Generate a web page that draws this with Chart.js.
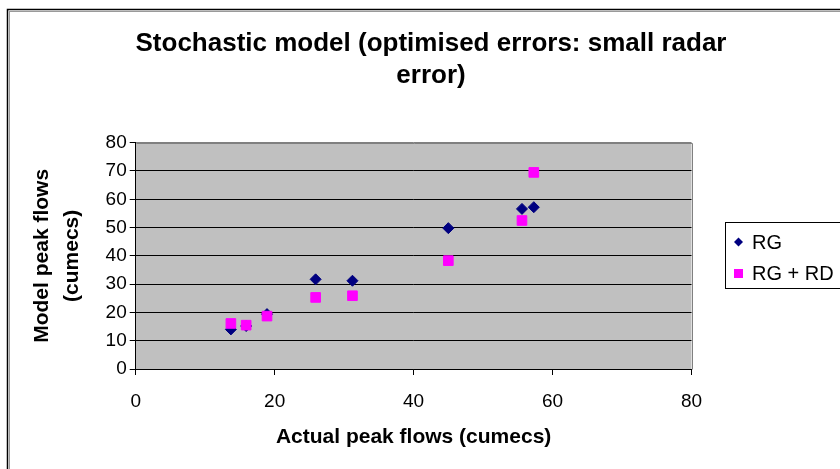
<!DOCTYPE html>
<html>
<head>
<meta charset="utf-8">
<script src="https://cdn.jsdelivr.net/npm/chart.js@4.4.1/dist/chart.umd.min.js"></script>
<style>
  html, body { margin: 0; padding: 0; background: #fff; }
  #wrap { width: 840px; height: 469px; }
</style>
</head>
<body>
<div id="wrap"><canvas id="mycanvas" width="840" height="469"></canvas></div>
<script>
// values
var titleLines = ['Stochastic model (optimised errors: small radar', 'error)'];
var xTitle = 'Actual peak flows (cumecs)';
var yTitle = ['Model peak flows', '(cumecs)'];
var seriesNames = ['RG', 'RG + RD'];
var actualFlows = [13.7, 15.9, 18.9, 25.9, 31.2, 45.0, 55.6, 57.3];
var rgModel = [14.0, 15.2, 19.4, 31.7, 31.2, 49.8, 56.6, 57.2];
var rgRdModel = [16.1, 15.5, 18.7, 25.3, 25.9, 38.3, 52.5, 69.5];

var FONT = "'Liberation Sans', Arial, sans-serif";

function pairs(xs, ys) {
  var out = [];
  for (var i in xs) {
    out.push({x: xs[i], y: ys[i]});
  }
  return out;
}

// grey plot area, outer chart border, title and legend box
var excelLook = {
  id: 'excelLook',
  beforeDraw: function(chart) {
    var ctx = chart.ctx, a = chart.chartArea;
    ctx.save();
    ctx.fillStyle = '#fff';
    ctx.fillRect(0, 0, chart.width, chart.height);
    ctx.fillStyle = '#c0c0c0';
    ctx.fillRect(a.left, a.top, a.right - a.left, a.bottom - a.top);
    // outer border
    ctx.strokeStyle = '#000';
    ctx.lineWidth = 1.5;
    ctx.strokeRect(7.5, 9.5, 900, 500);
    ctx.strokeStyle = '#9a9a9a';
    ctx.lineWidth = 1;
    ctx.strokeRect(9.5, 11.5, 900, 500);
    // title
    ctx.fillStyle = '#000';
    ctx.font = 'bold 26px ' + FONT;
    ctx.textAlign = 'center';
    ctx.textBaseline = 'middle';
    ctx.fillText(titleLines[0], 431, 44);
    ctx.fillText(titleLines[1], 431, 76);
    ctx.restore();
  },
  beforeDatasetsDraw: function(chart) {
    var ctx = chart.ctx, a = chart.chartArea;
    ctx.save();
    ctx.strokeStyle = '#808080';
    ctx.lineWidth = 1;
    ctx.beginPath();
    ctx.moveTo(Math.round(a.left) + 0.5, Math.round(a.top) + 0.5);
    ctx.lineTo(Math.round(a.right) + 0.5, Math.round(a.top) + 0.5);
    ctx.lineTo(Math.round(a.right) + 0.5, Math.round(a.bottom) + 0.5);
    ctx.stroke();
    ctx.restore();
  },
  afterDraw: function(chart) {
    var ctx = chart.ctx;
    ctx.save();
    ctx.strokeStyle = '#000';
    ctx.lineWidth = 1;
    ctx.strokeRect(725.5, 222.5, 200, 66);
    ctx.font = '20px ' + FONT;
    ctx.textAlign = 'left';
    ctx.textBaseline = 'middle';
    chart.data.datasets.forEach(function(ds, i) {
      var y = 242 + i * 31.5;
      ctx.fillStyle = ds.backgroundColor;
      ctx.beginPath();
      if (ds.pointStyle === 'rect') {
        ctx.rect(734, y - 4.5, 9, 9);
      } else {
        ctx.moveTo(738.5, y - 4.5);
        ctx.lineTo(743, y);
        ctx.lineTo(738.5, y + 4.5);
        ctx.lineTo(734, y);
        ctx.closePath();
      }
      ctx.fill();
      ctx.fillStyle = '#000';
      ctx.fillText(ds.label, 752, y + 1);
    });
    ctx.restore();
  }
};

var chartdata = {
  datasets: [
    {
      label: seriesNames[0],
      data: pairs(actualFlows, rgModel),
      pointStyle: 'rectRot',
      pointRadius: 5.5,
      pointHoverRadius: 5.5,
      backgroundColor: '#000080',
      borderColor: '#000080',
      borderWidth: 1,
      order: 2
    },
    {
      label: seriesNames[1],
      data: pairs(actualFlows, rgRdModel),
      pointStyle: 'rect',
      pointRadius: 6.8,
      pointHoverRadius: 6.8,
      backgroundColor: '#ff00ff',
      borderColor: '#ff00ff',
      borderWidth: 1,
      order: 1
    }
  ]
};

var ctx = document.getElementById('mycanvas');

var scatter = new Chart(ctx, {
  type: 'scatter',
  data: chartdata,
  plugins: [excelLook],
  options: {
    responsive: false,
    animation: false,
    layout: { padding: { top: 142.7, right: 148.5, left: 0, bottom: 0 } },
    plugins: {
      legend: { display: false },
      title: { display: false },
      tooltip: { enabled: false }
    },
    scales: {
      x: {
        type: 'linear',
        min: 0,
        max: 80,
        afterFit: function(scale) { scale.height = 100; },
        ticks: {
          stepSize: 20,
          color: '#000',
          padding: 15,
          maxRotation: 0,
          font: { family: FONT, size: 19 }
        },
        grid: {
          drawOnChartArea: false,
          tickLength: 6,
          tickColor: '#000'
        },
        border: { color: '#000', width: 1 },
        title: {
          display: true,
          text: xTitle,
          color: '#000',
          font: { family: FONT, size: 21, weight: 'bold' },
          padding: { top: 0, bottom: 19 }
        }
      },
      y: {
        type: 'linear',
        min: 0,
        max: 80,
        afterFit: function(scale) { scale.width = 135.7; },
        ticks: {
          stepSize: 10,
          color: '#000',
          padding: 3,
          font: { family: FONT, size: 19 }
        },
        grid: {
          color: function(c) { return c.tick && c.tick.value === 80 ? '#808080' : '#000'; },
          tickLength: 6,
          tickColor: '#000'
        },
        border: { color: '#000', width: 1 },
        title: {
          display: true,
          text: yTitle,
          color: '#000',
          font: { family: FONT, size: 21, weight: 'bold', lineHeight: 1.43 },
          padding: { top: 27, bottom: 0 }
        }
      }
    }
  }
});
</script>
</body>
</html>
